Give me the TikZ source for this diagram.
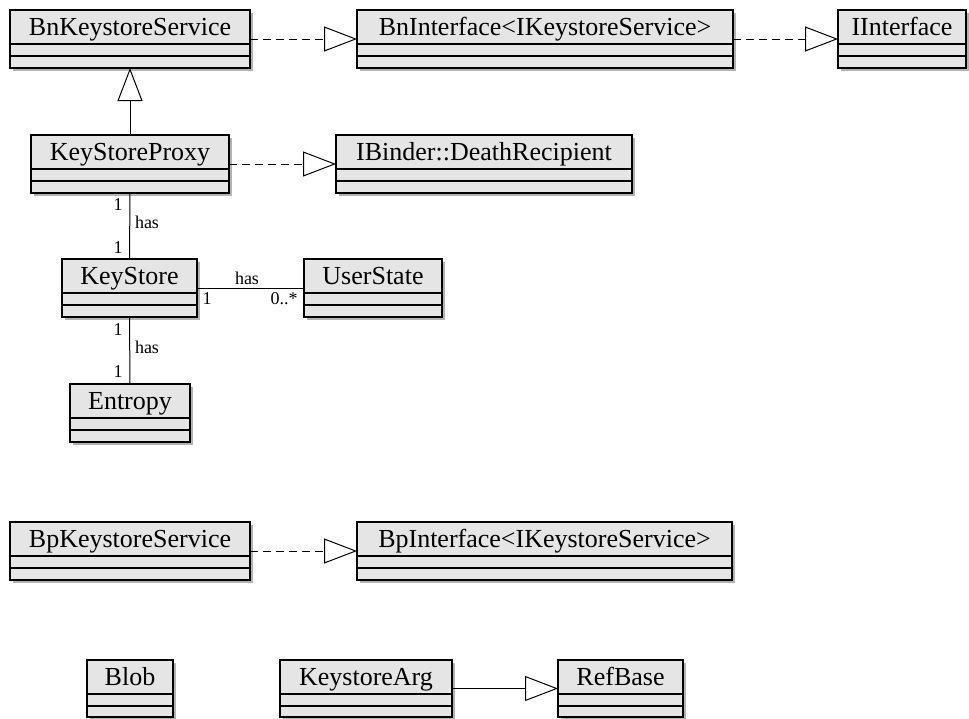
\documentclass[tikz,border=0pt]{standalone}
\usepackage{fontspec}
\setmainfont{Liberation Serif}
\usetikzlibrary{arrows.meta,shadows}
\tikzset{
  classbox/.style={draw=black, line width=1.4pt, fill=black!10, inner sep=0pt, outer sep=0pt,
    anchor=north west, drop shadow={shadow xshift=3pt, shadow yshift=-3pt, fill=black!30, opacity=1}},
  compline/.style={line width=1.2pt},
  classname/.style={anchor=base, inner sep=0pt, font=\fontsize{26}{30}\selectfont},
  conn/.style={line width=1pt},
  realize/.style={conn, dash pattern=on 8pt off 5pt, -{Triangle[open, length=33pt, width=25pt, fill=white]}},
  inherit/.style={conn, -{Triangle[open, length=33pt, width=25pt, fill=white]}},
  lbl/.style={inner sep=0pt, font=\fontsize{18}{20}\selectfont},
}
\newcommand\umlbox[6]{%
  \node[classbox, minimum width=#4pt-#2pt, minimum height=#5pt-#3pt] (#1) at (#2,#3) {};
  \draw[compline] ([yshift=-34pt]#1.north west) -- ([yshift=-34pt]#1.north east);
  \draw[compline] ([yshift=-46pt]#1.north west) -- ([yshift=-46pt]#1.north east);
  \draw[line width=1.4pt] (#1.north west) rectangle (#1.south east);
  \node[classname] (#1-name) at ([yshift=-25.5pt]#1.north) {#6};
}
\begin{document}
\begin{tikzpicture}[x=1pt, y=-1pt]
\useasboundingbox (0,0) rectangle (969,718);
\umlbox{bnks}{10}{10}{250}{68}{BnKeystoreService}
\umlbox{bnif}{357}{10}{733}{68}{BnInterface<IKeystoreService>}
\umlbox{iif}{838}{10}{966}{68}{IInterface}
\umlbox{ksp}{31}{135}{229}{193}{KeyStoreProxy}
\umlbox{dr}{336}{135}{632}{193}{IBinder::DeathRecipient}
\umlbox{ks}{62}{259}{197}{317}{KeyStore}
\umlbox{us}{304}{259}{442}{317}{UserState}
\umlbox{ent}{70}{384}{190}{442}{Entropy}
\umlbox{bpks}{10}{522}{250}{580}{BpKeystoreService}
\umlbox{bpif}{357}{522}{732}{580}{BpInterface<IKeystoreService>}
\umlbox{blob}{87}{660}{173}{717}{Blob}
\umlbox{karg}{280}{660}{452}{717}{KeystoreArg}
\umlbox{rb}{558}{660}{683}{717}{RefBase}

\draw[realize] (bnks.east) -- (bnif.west);
\draw[realize] (bnif.east) -- (iif.west);
\draw[inherit] (ksp.north) -- (bnks.south);
\draw[realize] (ksp.east) -- (dr.west);
\draw[conn] (ksp.south) -- (ks.north);
\draw[conn] (ks.east) -- (us.west);
\draw[conn] (ks.south) -- (ent.north);
\draw[realize] (bpks.east) -- (bpif.west);
\draw[inherit] (karg.east) -- (rb.west);

\node[lbl] (l1) at (118,205) {1};
\node[lbl] (l2) at (147,222) {has};
\node[lbl] (l3) at (118,248) {1};
\node[lbl] (l4) at (247,278) {has};
\node[lbl] (l5) at (207,299) {1};
\node[lbl] (l6) at (284,299) {0..*};
\node[lbl] (l7) at (118,330) {1};
\node[lbl] (l8) at (147,347) {has};
\node[lbl] (l9) at (118,372) {1};
\end{tikzpicture}
\end{document}
